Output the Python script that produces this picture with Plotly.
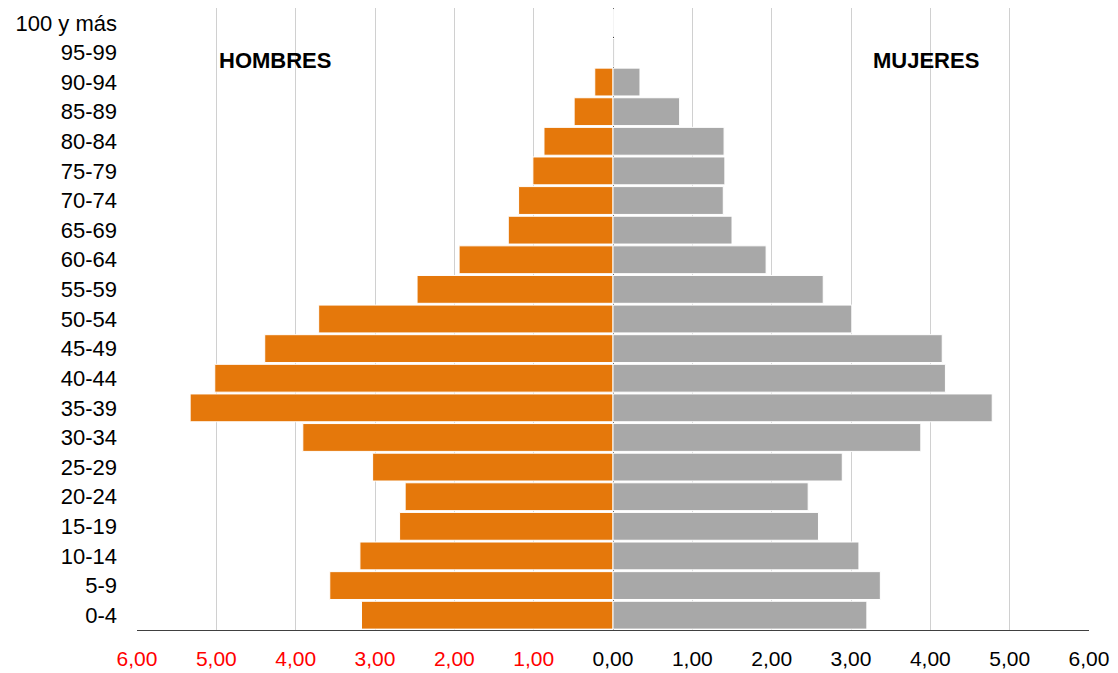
import plotly.graph_objects as go

age_groups = ["0-4", "5-9", "10-14", "15-19", "20-24", "25-29", "30-34", "35-39",
              "40-44", "45-49", "50-54", "55-59", "60-64", "65-69", "70-74", "75-79",
              "80-84", "85-89", "90-94", "95-99", "100 y más"]
hombres = [3.17, 3.57, 3.19, 2.69, 2.62, 3.03, 3.91, 5.33, 5.02, 4.39, 3.71, 2.47,
           1.94, 1.32, 1.19, 1.01, 0.87, 0.49, 0.23, 0.0, 0.0]
mujeres = [3.20, 3.37, 3.10, 2.59, 2.46, 2.89, 3.88, 4.78, 4.19, 4.15, 3.01, 2.65,
           1.93, 1.50, 1.39, 1.41, 1.40, 0.84, 0.34, 0.02, 0.0]
tick_vals = [-6, -5, -4, -3, -2, -1, 0, 1, 2, 3, 4, 5, 6]
tick_text = ["<span style='color:#ff0000'>6,00</span>", "<span style='color:#ff0000'>5,00</span>",
             "<span style='color:#ff0000'>4,00</span>", "<span style='color:#ff0000'>3,00</span>",
             "<span style='color:#ff0000'>2,00</span>", "<span style='color:#ff0000'>1,00</span>",
             "0,00", "1,00", "2,00", "3,00", "4,00", "5,00", "6,00"]

fig = go.Figure()
fig.add_trace(go.Bar(
    y=age_groups, x=[-v for v in hombres], orientation="h", name="Hombres",
    marker=dict(color="#E5780B", line=dict(color="#ffffff", width=1)),
))
fig.add_trace(go.Bar(
    y=age_groups, x=mujeres, orientation="h", name="Mujeres",
    marker=dict(color="#A8A8A8", line=dict(color="#ffffff", width=1)),
))

fig.update_layout(
    width=1110, height=665,
    barmode="relative", bargap=0.06,
    showlegend=False,
    plot_bgcolor="white", paper_bgcolor="white",
    margin=dict(l=129, r=29, t=0, b=43, autoexpand=False),
    font=dict(family="Liberation Sans, Arial, sans-serif", size=21, color="#000000"),
    xaxis=dict(
        range=[-6, 6], tickvals=tick_vals, ticktext=tick_text,
        showgrid=True, gridcolor="#D0D0D0", gridwidth=1,
        zeroline=True, zerolinecolor="#404040", zerolinewidth=1,
        showline=True, linecolor="#404040", linewidth=1,
        ticks="", tickfont=dict(size=21), ticklabelstandoff=10,
    ),
    yaxis=dict(
        categoryorder="array", categoryarray=age_groups,
        showgrid=False, showline=False, ticks="",
        tickfont=dict(size=22), ticklabelstandoff=19,
    ),
    annotations=[
        dict(text="<b>HOMBRES</b>", x=-4.26, y=0.915, xref="x", yref="paper",
             xanchor="center", yanchor="middle",
             showarrow=False, font=dict(size=22)),
        dict(text="<b>MUJERES</b>", x=3.95, y=0.915, xref="x", yref="paper",
             xanchor="center", yanchor="middle",
             showarrow=False, font=dict(size=22)),
    ],
)

fig.write_html("out.html")
